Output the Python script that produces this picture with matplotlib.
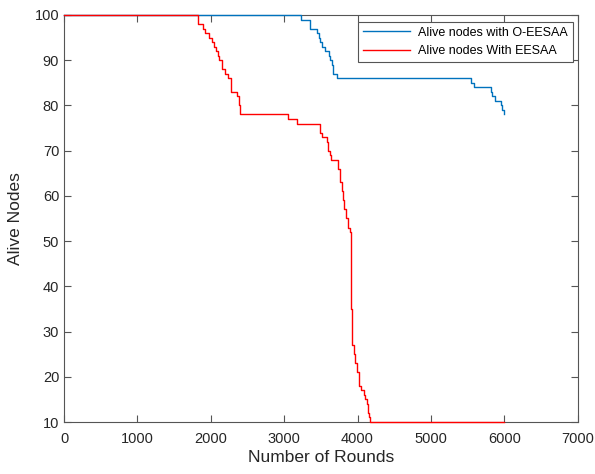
import numpy as np
import matplotlib.pyplot as plt

plt.rcParams['font.family'] = ['Liberation Sans', 'DejaVu Sans']

# Alive nodes with O-EESAA (step data)
rounds_o = [0, 3227, 3349, 3454, 3476, 3495, 3522, 3553, 3612, 3631, 3658, 3667, 3721,
            5541, 5586, 5814, 5831, 5877, 5959, 5973, 5990, 6000]
alive_o = [100, 99, 97, 96, 95, 94, 93, 92, 91, 90, 89, 87, 86,
           85, 84, 83, 82, 81, 80, 79, 78, 78]

# Alive nodes with EESAA (step data)
rounds_e = [0, 1824, 1888, 1924, 1970, 2019, 2046, 2065, 2093, 2114, 2147, 2192, 2229,
            2270, 2359, 2383, 2396, 3054, 3176, 3495, 3513, 3577, 3598, 3622, 3645,
            3735, 3758, 3767, 3785, 3800, 3815, 3839, 3871, 3894, 3912, 3925, 3948,
            3971, 3993, 4020, 4053, 4084, 4107, 4129, 4143, 4157, 4166, 6000]
alive_e = [100, 98, 97, 96, 95, 94, 93, 92, 91, 90, 88, 87, 86,
           83, 82, 80, 78, 77, 76, 74, 73, 72, 70, 69, 68,
           66, 65, 63, 61, 59, 57, 55, 53, 52, 35, 27, 25,
           23, 21, 18, 17, 16, 15, 14, 12, 11, 10, 10]

fig = plt.figure(figsize=(5.95, 4.74), dpi=100)
ax = fig.add_axes([0.1076, 0.1097, 0.8633, 0.8587])

ax.plot(rounds_o, alive_o, drawstyle='steps-post', color='#0072BD', lw=1.0,
        label='Alive nodes with O-EESAA', zorder=4, clip_on=False)
ax.plot(rounds_e, alive_e, drawstyle='steps-post', color='#FF0000', lw=1.0,
        label='Alive nodes With EESAA', zorder=5, clip_on=False)

ax.set_xlim(0, 7000)
ax.set_ylim(10, 100)
ax.set_xticks(np.arange(0, 7001, 1000))
ax.set_yticks(np.arange(10, 101, 10))

gray = '#262626'
for s in ax.spines.values():
    s.set_color('#555555')
    s.set_linewidth(0.8)
ax.tick_params(direction='in', top=True, right=True, length=5, width=0.8,
               color='#555555', labelsize=10.5, labelcolor=gray)
ax.tick_params(axis='x', pad=7)
ax.set_xlabel('Number of Rounds', fontsize=12.5, color=gray, labelpad=3)
ax.set_ylabel('Alive Nodes', fontsize=12.5, color=gray, labelpad=8)

leg = ax.legend(loc='upper right', bbox_to_anchor=(0.990, 0.9835), borderaxespad=0,
                fontsize=9, fancybox=False, framealpha=1, edgecolor='#555555',
                handlelength=3.8, handletextpad=0.6, borderpad=0.4, labelspacing=0.5)
leg.get_frame().set_linewidth(0.8)
leg.set_zorder(6)

fig.savefig('out.png', dpi=100)
